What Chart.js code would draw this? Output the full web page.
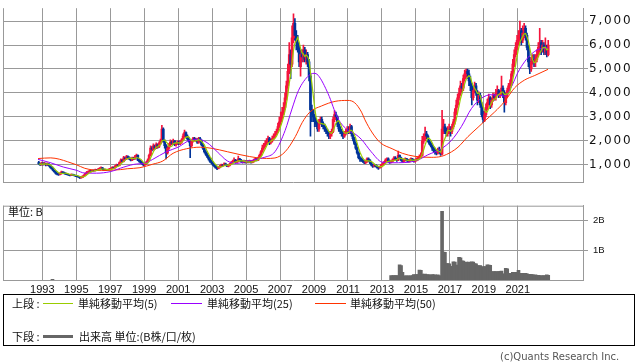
<!DOCTYPE html>
<html>
<head>
<meta charset="utf-8">
<script src="https://cdn.jsdelivr.net/npm/chart.js@4.4.0/dist/chart.umd.min.js"></script>
<style>
  body { margin: 0; width: 638px; height: 362px; background: #fff; position: relative; overflow: hidden;
         font-family: "Noto Sans CJK JP", sans-serif; color: #111; }
  canvas { position: absolute; left: 0; }
  #price { top: 0; }
  #vol { top: 195px; }
  .t { position: absolute; font-size: 11px; line-height: 14px; white-space: nowrap; }
  .ln { position: absolute; height: 1px; z-index: 2; }
  #box { position: absolute; left: 3px; top: 294px; width: 632px; height: 52px; border: 1px solid #000; box-sizing: border-box; }
  #copy { position: absolute; left: 500px; top: 351px; font: 10px "DejaVu Sans"; color: #555; }
</style>
</head>
<body>
<canvas id="price" width="638" height="191"></canvas>
<canvas id="vol" width="638" height="100"></canvas>
<div class="t" style="left:8px;top:204px">単位: B</div>

<div id="box"></div>
<div class="t" style="left:12px;top:296px">上段 :</div>
<div class="ln" style="left:43px;top:303px;width:30px;background:#99cc00"></div>
<div class="t" style="left:78px;top:296px">単純移動平均(5)</div>
<div class="ln" style="left:171px;top:303px;width:31px;background:#9900ff"></div>
<div class="t" style="left:207px;top:296px">単純移動平均(25)</div>
<div class="ln" style="left:315px;top:303px;width:31px;background:#ff3300"></div>
<div class="t" style="left:350px;top:296px">単純移動平均(50)</div>
<div class="t" style="left:12px;top:329px">下段 :</div>
<div class="ln" style="left:43px;top:335px;width:30px;height:3px;background:#666"></div>
<div class="t" style="left:79px;top:329px">出来高 単位:(B株/口/枚)</div>
<div id="copy">(c)Quants Research Inc.</div>

<script>
// monthly candles, first one is Oct 1992
const firstYear = 1992, firstMonth = 10;

const open = [
  1100, 1050, 1000,
  1080, 1020, 1060, 1000, 1050, 980, 920, 850, 780, 720, 650, 620,
  600, 640, 700, 680, 650, 620, 600, 580, 560, 600, 580, 560,
  540, 520, 500, 460, 480, 530, 580, 650, 700, 720, 750, 730,
  780, 760, 800, 780, 820, 850, 880, 820, 780, 800, 780, 800,
  830, 850, 900, 880, 950, 1000, 980, 1100, 1200, 1150, 1300, 1250,
  1350, 1300, 1250, 1200, 1300, 1250, 1350, 1400, 1200, 1150, 1100, 1050,
  1000, 1050, 1100, 1200, 1400, 1700, 1650, 1800, 1700, 1850, 1750, 1900,
  2000, 2500, 2000, 1800, 1500, 1700, 1850, 1950, 1900, 2000, 1850, 1900,
  1950, 1900, 1950, 2050, 2200, 2350, 2200, 2100, 2000, 1800, 2000, 2100,
  2050, 2050, 1950, 2100, 2000, 1850, 1700, 1550, 1450, 1350, 1250, 1150,
  1100, 1000, 950, 880, 850, 900, 950, 1000, 980, 1050, 1000, 950,
  980, 1050, 1100, 1150, 1200, 1100, 1150, 1250, 1200, 1150, 1100, 1150,
  1100, 1150, 1100, 1150, 1100, 1150, 1200, 1250, 1200, 1300, 1400, 1550,
  1700, 1800, 1900, 2000, 2100, 1950, 2000, 2100, 2200, 2300, 2400, 2600,
  2800, 3000, 3200, 3400, 3800, 4300, 4900, 5600, 5200, 6300, 6900, 6400,
  6100, 5900, 5100, 5600, 5500, 5800, 5400, 5600, 5300, 4700, 3300, 3100,
  3000, 2800, 2700, 2500, 2800, 2900, 2700, 2600, 2500, 2400, 2300, 2200,
  2300, 2400, 2900, 3100, 3000, 2700, 2500, 2400, 2300, 2200, 2300, 2400,
  2500, 2400, 2600, 2300, 2100, 1900, 1700, 1500, 1300, 1250, 1200, 1150,
  1100, 1150, 1250, 1200, 1100, 1000, 950, 1000, 950, 900, 880, 920,
  1000, 1050, 1100, 1200, 1250, 1150, 1100, 1150, 1200, 1300, 1250, 1200,
  1400, 1300, 1200, 1150, 1200, 1250, 1200, 1150, 1200, 1250, 1200, 1150,
  1200, 1250, 1300, 1350, 1400, 2000, 2100, 2300, 2200, 2000, 1900, 1800,
  1700, 1600, 1550, 1500, 1600, 1550, 1450, 2500, 2600, 2400, 2300, 2400,
  2500, 2400, 2600, 2800, 3200, 3500, 3800, 4000, 4300, 4200, 4600, 4800,
  4900, 4800, 4500, 4300, 3800, 4100, 4300, 4000, 3700, 3900, 3500, 3100,
  2900, 3100, 3400, 3600, 3800, 3500, 3700, 3900, 3800, 4000, 4100, 3900,
  4000, 4200, 4000, 3600, 3900, 4100, 4300, 4400, 4800, 5200, 5600, 5900,
  6200, 6300, 6600, 6200, 6500, 6700, 6400, 5900, 5300, 5000, 5300, 5400,
  5300, 5400, 5600, 5900, 6100, 5800, 6000, 5700, 5900, 5600
];
const high = [
  1150, 1080, 1120,
  1100, 1110, 1080, 1090, 1060, 1000, 940, 870, 800, 740, 680, 650,
  680, 740, 720, 700, 670, 640, 620, 600, 630, 620, 600, 580,
  560, 540, 510, 500, 550, 600, 670, 730, 750, 790, 770, 800,
  800, 830, 820, 860, 890, 920, 900, 840, 830, 820, 830, 860,
  880, 930, 920, 980, 1040, 1020, 1130, 1250, 1230, 1360, 1330, 1400,
  1380, 1340, 1290, 1330, 1320, 1400, 1450, 1420, 1230, 1200, 1150, 1100,
  1080, 1150, 1250, 1450, 1800, 1760, 1880, 1830, 1920, 1880, 1960, 2080,
  2650, 2550, 2050, 1850, 1760, 1900, 2050, 2000, 2080, 2020, 1950, 2000,
  2000, 2000, 2100, 2300, 2450, 2380, 2250, 2150, 2050, 2050, 2150, 2150,
  2120, 2100, 2150, 2150, 2050, 1900, 1750, 1600, 1500, 1400, 1300, 1200,
  1130, 1040, 980, 920, 930, 980, 1040, 1030, 1090, 1080, 1020, 1010,
  1080, 1140, 1200, 1300, 1230, 1200, 1370, 1280, 1230, 1180, 1200, 1180,
  1190, 1180, 1200, 1180, 1190, 1240, 1290, 1270, 1330, 1450, 1600, 1830,
  1900, 2000, 2100, 2200, 2150, 2080, 2200, 2300, 2400, 2500, 2750, 3000,
  3200, 3400, 3600, 4000, 4500, 5200, 6100, 5800, 6800, 7300, 7100, 6600,
  6400, 6000, 5800, 5800, 6000, 5900, 5800, 5700, 5400, 4800, 3500, 3300,
  3100, 2900, 2800, 2900, 3000, 3000, 2800, 2700, 2600, 2500, 2400, 2400,
  2500, 3000, 3270, 3200, 3050, 2800, 2600, 2500, 2400, 2400, 2500, 2600,
  2600, 2700, 2650, 2350, 2150, 1950, 1750, 1550, 1350, 1300, 1250, 1200,
  1200, 1300, 1300, 1220, 1120, 1020, 1030, 1020, 970, 930, 950, 1030,
  1100, 1150, 1250, 1300, 1300, 1180, 1200, 1250, 1350, 1350, 1280, 1580,
  1420, 1330, 1230, 1240, 1300, 1280, 1230, 1240, 1300, 1280, 1220, 1240,
  1300, 1350, 1420, 1500, 2190, 2300, 2580, 2400, 2250, 2050, 1950, 1850,
  1750, 1700, 1650, 1700, 1740, 1650, 3280, 2900, 2700, 2550, 2600, 2700,
  2600, 2700, 2900, 3350, 3700, 3950, 4200, 4500, 4400, 4750, 4950, 5000,
  5000, 4950, 4700, 4400, 4250, 4450, 4400, 4100, 4050, 4000, 3600, 3250,
  3250, 3550, 3750, 3950, 3850, 3800, 4000, 3950, 4150, 4300, 4150, 4100,
  4700, 4300, 4100, 4000, 4200, 4400, 4550, 4900, 5400, 5800, 6100, 6400,
  6600, 7000, 6700, 6800, 6900, 6800, 6500, 6000, 5500, 5500, 5600, 5600,
  5600, 5800, 6100, 6700, 6200, 6200, 6100, 6300, 6000, 6200
];
const low = [
  1020, 980, 990,
  990, 1000, 960, 980, 950, 880, 820, 750, 690, 620, 580, 560,
  580, 620, 650, 630, 600, 580, 560, 540, 550, 560, 540, 510,
  500, 480, 440, 450, 470, 520, 570, 630, 680, 700, 710, 720,
  740, 740, 760, 770, 800, 830, 800, 760, 760, 760, 770, 790,
  810, 830, 860, 860, 930, 950, 960, 1080, 1120, 1130, 1200, 1220,
  1260, 1220, 1170, 1180, 1220, 1230, 1320, 1180, 1120, 1060, 1020, 960,
  980, 1020, 1080, 1180, 1380, 1580, 1620, 1650, 1680, 1700, 1720, 1860,
  1950, 1950, 1700, 1250, 1450, 1650, 1800, 1850, 1850, 1800, 1780, 1850,
  1850, 1850, 1900, 2000, 2150, 2150, 2050, 1950, 1300, 1750, 1950, 2000,
  1980, 1900, 1900, 1950, 1800, 1650, 1500, 1400, 1300, 1200, 1100, 1050,
  980, 920, 860, 800, 830, 880, 930, 950, 960, 980, 930, 920,
  960, 1020, 1080, 1120, 1070, 1080, 1130, 1170, 1120, 1070, 1080, 1070,
  1080, 1080, 1080, 1070, 1080, 1120, 1170, 1170, 1180, 1280, 1380, 1520,
  1650, 1750, 1850, 1950, 1850, 1880, 1950, 2050, 2150, 2250, 2350, 2550,
  2700, 2900, 3100, 3300, 3700, 4200, 4800, 4600, 5100, 6100, 6200, 5800,
  5700, 5100, 4700, 5300, 5300, 5300, 5200, 5100, 4500, 2200, 2800, 2800,
  2600, 2600, 2400, 2400, 2700, 2600, 2500, 2400, 2300, 2200, 2100, 2100,
  2200, 2350, 2800, 2900, 2600, 2400, 2300, 2200, 2100, 2150, 2250, 2350,
  2300, 2300, 2200, 2000, 1850, 1650, 1450, 1250, 1150, 1150, 1100, 1050,
  1050, 1100, 1150, 1050, 960, 900, 920, 920, 870, 810, 860, 900,
  980, 1020, 1080, 1180, 1120, 1060, 1080, 1120, 1180, 1220, 1150, 1180,
  1270, 1170, 1110, 1120, 1170, 1160, 1120, 1120, 1180, 1160, 1110, 1120,
  1170, 1200, 1260, 1300, 1380, 1900, 2000, 2100, 1950, 1850, 1750, 1600,
  1550, 1450, 1420, 1450, 1480, 1400, 1420, 2300, 2300, 2200, 2200, 2300,
  2200, 2300, 2500, 2700, 3100, 3400, 3700, 3900, 4000, 4100, 4500, 4650,
  4600, 4300, 4100, 3500, 3700, 4000, 3900, 3500, 3600, 3400, 3000, 2760,
  2800, 3000, 3300, 3500, 3350, 3400, 3650, 3700, 3700, 3900, 3800, 3800,
  3900, 3800, 3200, 3500, 3800, 4000, 4200, 4300, 4700, 5100, 5500, 5800,
  6000, 6100, 6000, 6100, 6300, 6200, 5800, 5100, 4800, 4900, 5200, 5100,
  5100, 5300, 5500, 5700, 5600, 5700, 5600, 5600, 5500, 5550
];
const close = [
  1050, 1000, 1080,
  1020, 1060, 1000, 1050, 980, 920, 850, 780, 720, 650, 620, 600,
  640, 700, 680, 650, 620, 600, 580, 560, 600, 580, 560, 540,
  520, 500, 460, 480, 530, 580, 650, 700, 720, 750, 730, 780,
  760, 800, 780, 820, 850, 880, 820, 780, 800, 780, 800, 830,
  850, 900, 880, 950, 1000, 980, 1100, 1200, 1150, 1300, 1250, 1350,
  1300, 1250, 1200, 1300, 1250, 1350, 1400, 1200, 1150, 1100, 1050, 1000,
  1050, 1100, 1200, 1400, 1700, 1650, 1800, 1700, 1850, 1750, 1900, 2000,
  2500, 2000, 1800, 1500, 1700, 1850, 1950, 1900, 2000, 1850, 1900, 1950,
  1900, 1950, 2050, 2200, 2350, 2200, 2100, 2000, 1800, 2000, 2100, 2050,
  2050, 1950, 2100, 2000, 1850, 1700, 1550, 1450, 1350, 1250, 1150, 1100,
  1000, 950, 880, 850, 900, 950, 1000, 980, 1050, 1000, 950, 980,
  1050, 1100, 1150, 1200, 1100, 1150, 1250, 1200, 1150, 1100, 1150, 1100,
  1150, 1100, 1150, 1100, 1150, 1200, 1250, 1200, 1300, 1400, 1550, 1700,
  1800, 1900, 2000, 2100, 1950, 2000, 2100, 2200, 2300, 2400, 2600, 2800,
  3000, 3200, 3400, 3800, 4300, 4900, 5600, 5200, 6300, 6900, 6400, 6100,
  5900, 5300, 5600, 5500, 5800, 5400, 5600, 5300, 4700, 3300, 3100, 3000,
  2800, 2700, 2500, 2800, 2900, 2700, 2600, 2500, 2400, 2300, 2200, 2300,
  2400, 2900, 3100, 3000, 2700, 2500, 2400, 2300, 2200, 2300, 2400, 2500,
  2400, 2600, 2300, 2100, 1900, 1700, 1500, 1300, 1250, 1200, 1150, 1100,
  1150, 1250, 1200, 1100, 1000, 950, 1000, 950, 900, 880, 920, 1000,
  1050, 1100, 1200, 1250, 1150, 1100, 1150, 1200, 1300, 1250, 1200, 1400,
  1300, 1200, 1150, 1200, 1250, 1200, 1150, 1200, 1250, 1200, 1150, 1200,
  1250, 1300, 1350, 1400, 2000, 2100, 2300, 2200, 2000, 1900, 1800, 1700,
  1600, 1550, 1500, 1600, 1550, 1450, 2500, 2600, 2400, 2300, 2400, 2500,
  2400, 2600, 2800, 3200, 3500, 3800, 4000, 4300, 4200, 4600, 4800, 4900,
  4800, 4500, 4300, 3800, 4100, 4300, 4000, 3700, 3900, 3500, 3100, 2900,
  3100, 3400, 3600, 3800, 3500, 3700, 3900, 3800, 4000, 4100, 3900, 4000,
  4200, 4000, 3600, 3900, 4100, 4300, 4400, 4800, 5200, 5600, 5900, 6200,
  6300, 6600, 6200, 6500, 6700, 6400, 5900, 5300, 5000, 5300, 5400, 5300,
  5400, 5600, 5900, 6100, 5800, 6000, 5700, 5900, 5600, 6000
];

// 25 and 50 month averages
const ma25Year = [1992.75, 1993.45, 1994.25, 1995.0, 1995.5, 1996.2, 1997.0, 1997.8, 1998.55, 1999.0, 1999.5,
  2000.3, 2001.0, 2001.7, 2002.2, 2002.7, 2003.3, 2003.9, 2004.45, 2005.0, 2005.6, 2006.1, 2006.7, 2007.3,
  2007.7, 2008.08, 2008.7, 2009.0, 2009.24, 2009.83, 2010.4, 2011.0, 2011.4, 2011.8, 2012.37, 2013.0, 2013.6,
  2014.35, 2015.1, 2015.7, 2016.5, 2017.1, 2017.68, 2018.27, 2018.86, 2019.44, 2020.23, 2020.62, 2021.01,
  2021.4, 2021.8, 2022.2, 2022.78];
const ma25 = [1230, 1100, 910, 780, 660, 656, 720, 910, 1040, 1060, 1230,
  1550, 1740, 2030, 2060, 1930, 1550, 1165, 1065, 1140, 1230, 1320, 1550, 2440,
  3330, 4095, 4733, 4820, 4740, 3970, 2950, 2440, 2300, 2060, 1547, 1120, 1090,
  1100, 1200, 1420, 1676, 2030, 2600, 3350, 3780, 3930, 3870, 4250, 4860,
  5300, 5620, 5815, 5880];
const ma50Year = [1992.75, 1993.5, 1994.0, 1994.5, 1995.0, 1995.5, 1996.0, 1996.5, 1997.0, 1997.6, 1998.0,
  1998.75, 1999.5, 2000.1, 2000.7, 2001.5, 2002.3, 2003.0, 2003.9, 2004.7, 2005.7, 2006.2, 2006.7, 2007.3,
  2007.9, 2008.3, 2008.75, 2009.45, 2010.24, 2011.0, 2011.4, 2011.8, 2012.0, 2012.4, 2012.9, 2013.6, 2014.2,
  2014.95, 2015.9, 2016.5, 2017.1, 2017.48, 2018.07, 2018.66, 2019.05, 2019.64, 2020.23, 2020.82, 2021.4,
  2022.0, 2022.78];
const ma50 = [1267, 1294, 1240, 1130, 1010, 860, 790, 770, 775, 805, 840,
  885, 1030, 1165, 1485, 1676, 1740, 1690, 1550, 1420, 1294, 1270, 1290, 1550,
  2180, 2760, 3200, 3460, 3650, 3690, 3590, 3200, 2880, 2375, 1930, 1676, 1485,
  1357, 1317, 1357, 1547, 1740, 2185, 2570, 2830, 3210, 3650, 4220, 4540,
  4730, 4985];

// volume in billions, monthly from Jul 2013
const volStartYear = 2013, volStartMonth = 7;
const volume = [
  0.15, 0.14, 0.15, 0.15, 0.14, 0.15, 0.51, 0.48, 0.26, 0.14, 0.13, 0.14,
  0.14, 0.13, 0.14, 0.15, 0.18, 0.17, 0.18, 0.18, 0.33, 0.32, 0.2, 0.19,
  0.2, 0.17, 0.18, 0.17, 0.16, 0.18, 0.17, 0.17, 0.16, 0.17, 0.15, 0.11,
  2.29, 0.93, 0.92, 0.55, 0.55, 0.54, 0.45, 0.46, 0.61, 0.6, 0.48, 0.5,
  0.76, 0.74, 0.64, 0.63, 0.59, 0.6, 0.58, 0.6, 0.59, 0.61, 0.6, 0.55,
  0.54, 0.48, 0.47, 0.48, 0.44, 0.44, 0.45, 0.44, 0.51, 0.5, 0.49, 0.28,
  0.27, 0.28, 0.28, 0.27, 0.28, 0.29, 0.3, 0.2, 0.21, 0.39, 0.37, 0.22,
  0.21, 0.22, 0.26, 0.25, 0.26, 0.26, 0.32, 0.22, 0.22, 0.21, 0.22, 0.22,
  0.21, 0.18, 0.19, 0.18, 0.18, 0.16, 0.17, 0.16, 0.16, 0.15, 0.14, 0.14,
  0.15, 0.14, 0.17, 0.16
];
const earlyVolYear = [1993.6];
const earlyVol = [0.02];

const yearTicks = [1993, 1995, 1997, 1999, 2001, 2003, 2005, 2007, 2009, 2011, 2013, 2015, 2017, 2019, 2021];
const priceTicks = [1000, 2000, 3000, 4000, 5000, 6000, 7000];
const volTicks = [1, 2];

const xMin = 1990.686, xMax = 2024.84;
const UP = '#f5143c', DOWN = '#003399', GRID = '#999999';

const monthX = (y, m, i) => y + (m - 1 + i + 0.5) / 12;
const t = close.map((_, i) => monthX(firstYear, firstMonth, i));
const colors = close.map((c, i) => c >= open[i] ? UP : DOWN);
const bodies = close.map((c, i) => ({ x: t[i], y: [open[i], c] }));
const wicks = close.map((c, i) => ({ x: t[i], y: [low[i], high[i]] }));
const ma5 = close.map((c, i) => {
  const w = close.slice(Math.max(0, i - 4), i + 1);
  return { x: t[i], y: w.reduce((s, v) => s + v, 0) / w.length };
});

const frame = {
  id: 'frame',
  afterDraw(chart, args, opts) {
    const { ctx, chartArea: a } = chart;
    ctx.save();
    ctx.strokeStyle = GRID;
    ctx.lineWidth = 1;
    ctx.beginPath();
    ctx.moveTo(a.left + 0.5, a.top);
    ctx.lineTo(a.left + 0.5, a.bottom);
    if (opts.top) {
      ctx.moveTo(a.left, a.top + 0.5);
      ctx.lineTo(a.right, a.top + 0.5);
    }
    ctx.stroke();
    ctx.restore();
  }
};
const spacing = {
  id: 'spacing',
  beforeDraw(chart, args, opts) { chart.ctx.letterSpacing = opts.px || '0px'; },
  afterDraw(chart) { chart.ctx.letterSpacing = '0px'; }
};

const xAxis = (showLabels) => ({
  type: 'linear', min: xMin, max: xMax, offset: false,
  grid: { color: GRID, drawTicks: false, offset: false },
  border: { color: GRID },
  ticks: { display: showLabels, padding: 3, color: '#111', font: { family: 'Liberation Sans', size: 11 },
           callback: v => String(v) },
  afterBuildTicks: a => { a.ticks = yearTicks.map(v => ({ value: v })); },
  afterFit: a => { a.height = showLabels ? 15 : 0; }
});

new Chart(document.getElementById('price'), {
  data: {
    datasets: [
      { type: 'line', data: ma5, borderColor: '#99cc00', borderWidth: 1.2, pointRadius: 0, order: 0 },
      { type: 'line', data: ma25Year.map((x, i) => ({ x, y: ma25[i] })), borderColor: '#9900ff',
        borderWidth: 1, pointRadius: 0, cubicInterpolationMode: 'monotone', order: 0 },
      { type: 'line', data: ma50Year.map((x, i) => ({ x, y: ma50[i] })), borderColor: '#ff3300',
        borderWidth: 1, pointRadius: 0, cubicInterpolationMode: 'monotone', order: 0 },
      { type: 'bar', data: wicks, backgroundColor: colors, barThickness: 1, grouped: false, order: 2 },
      { type: 'bar', data: bodies, backgroundColor: colors, barThickness: 2, grouped: false, order: 1 }
    ]
  },
  options: {
    responsive: false, animation: false, events: [],
    layout: { padding: { left: 3, right: 0, top: 0, bottom: 0 } },
    plugins: { legend: { display: false }, tooltip: { enabled: false }, frame: {}, spacing: { px: '1.8px' } },
    scales: {
      x: xAxis(false),
      y: {
        position: 'right', min: 255, max: 7535,
        grid: { color: GRID, tickLength: 5 },
        border: { color: GRID },
        ticks: { padding: 1, color: '#111', font: { family: 'DejaVu Sans', size: 12 },
                 callback: v => v.toLocaleString('en-US') },
        afterBuildTicks: a => { a.ticks = priceTicks.map(v => ({ value: v })); },
        afterFit: a => { a.width = 55; }
      }
    }
  },
  plugins: [frame, spacing]
});

const volPts = volume.map((v, i) => ({ x: monthX(volStartYear, volStartMonth, i), y: v }))
  .concat(earlyVolYear.map((x, i) => ({ x, y: earlyVol[i] })));

new Chart(document.getElementById('vol'), {
  type: 'bar',
  data: { datasets: [{ data: volPts, backgroundColor: '#666666', barThickness: 3, grouped: false }] },
  options: {
    responsive: false, animation: false, events: [],
    layout: { padding: { left: 3, right: 0, top: 6, bottom: 0 } },
    plugins: { legend: { display: false }, tooltip: { enabled: false }, frame: { top: true } },
    scales: {
      x: xAxis(true),
      y: {
        position: 'right', min: 0, max: 2.48,
        grid: { color: GRID, tickLength: 5 },
        border: { color: GRID },
        ticks: { padding: 5, color: '#111', font: { family: 'Liberation Sans', size: 9.5 },
                 callback: v => v + 'B' },
        afterBuildTicks: a => { a.ticks = volTicks.map(v => ({ value: v })); },
        afterFit: a => { a.width = 55; }
      }
    }
  },
  plugins: [frame]
});
</script>
</body>
</html>
